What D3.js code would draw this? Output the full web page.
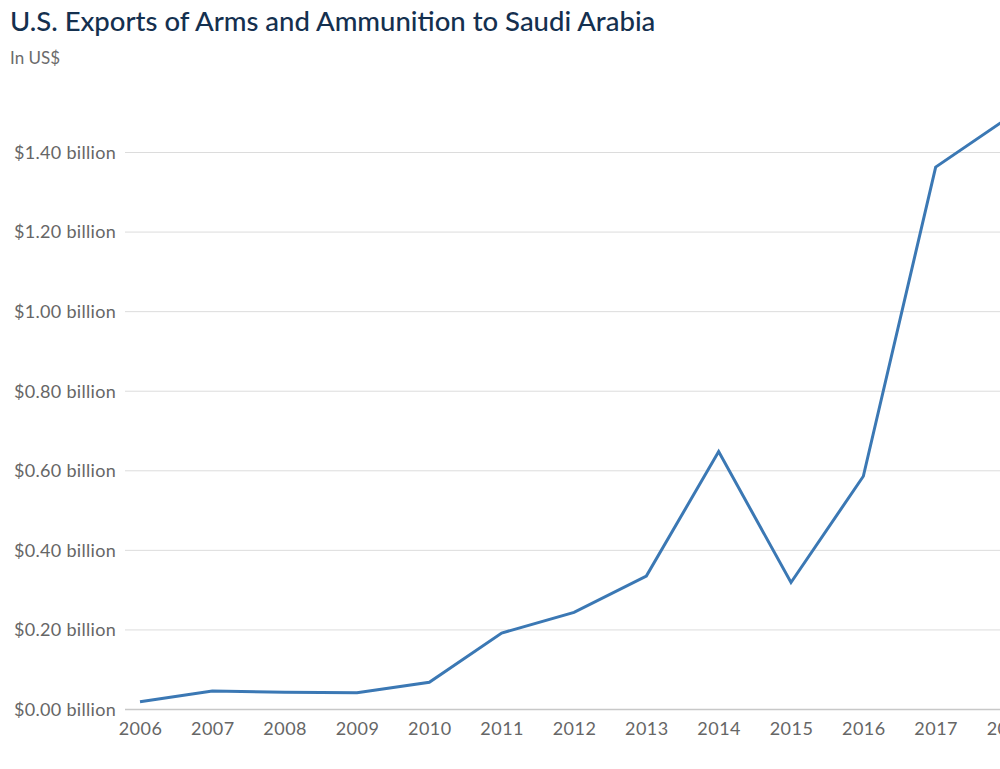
<!DOCTYPE html>
<html>
<head>
<meta charset="utf-8">
<script src="https://cdn.jsdelivr.net/npm/d3@7"></script>
<style>
  html, body { margin: 0; padding: 0; background: #fff; overflow: hidden; }
  svg { display: block; }
</style>
</head>
<body>
<svg id="chart" width="1000" height="769"></svg>
<script>
// Annual U.S. exports of arms and ammunition to Saudi Arabia, in billions of US$
const years = [2006, 2007, 2008, 2009, 2010, 2011, 2012, 2013, 2014, 2015, 2016, 2017, 2018];
const exportsBillions = [0.018, 0.045, 0.042, 0.041, 0.067, 0.191, 0.243, 0.334, 0.647, 0.318, 0.585, 1.362, 1.486];
const yTicks = [0, 0.2, 0.4, 0.6, 0.8, 1.0, 1.2, 1.4];

const title = "U.S. Exports of Arms and Ammunition to Saudi Arabia";
const subtitle = "In US$";

const svg = d3.select("#chart");
const font = "Lato, 'Open Sans', sans-serif";

// The plot runs past the right edge of the page; the last year is only partly in view.
const x = d3.scalePoint().domain(years).range([140, 1008]);
const y = d3.scaleLinear().domain([0, 1.4]).range([709, 152]);

svg.append("text")
  .attr("x", 10).attr("y", 31)
  .attr("font-family", font).attr("font-size", 27.5).attr("font-weight", 500)
  .attr("fill", "#14304f")
  .text(title);

svg.append("text")
  .attr("x", 10).attr("y", 64)
  .attr("font-family", font).attr("font-size", 17)
  .attr("fill", "#6b6b6b")
  .text(subtitle);

// Horizontal gridlines with y-axis labels
const yAxis = d3.axisLeft(y)
  .tickValues(yTicks)
  .tickSize(0)
  .tickPadding(9)
  .tickFormat(d => "$" + d3.format(".2f")(d) + " billion");

const gy = svg.append("g").attr("transform", "translate(125,0)").call(yAxis);
gy.select(".domain").remove();
gy.selectAll("text")
  .attr("font-family", font).attr("font-size", 18).attr("fill", "#666")
  .attr("letter-spacing", 0.3)
  .attr("dy", "0.35em");
gy.selectAll(".tick").append("line")
  .attr("x1", 0).attr("x2", 900)
  .attr("stroke", d => d === 0 ? "#c8c8c8" : "#dcdcdc")
  .attr("stroke-width", d => d === 0 ? 1.5 : 1);

// X axis year labels
const xAxis = d3.axisBottom(x).tickSize(0).tickPadding(13);
const gx = svg.append("g").attr("transform", "translate(0,709)").call(xAxis);
gx.select(".domain").remove();
gx.selectAll("text")
  .attr("font-family", font).attr("font-size", 18).attr("fill", "#666")
  .attr("letter-spacing", 0.5);

// Export line
const line = d3.line()
  .x((d, i) => x(years[i]))
  .y(d => y(d));

svg.append("path")
  .datum(exportsBillions)
  .attr("d", line)
  .attr("fill", "none")
  .attr("stroke", "#3b78b4")
  .attr("stroke-width", 3)
  .attr("stroke-linejoin", "miter");
</script>
</body>
</html>
